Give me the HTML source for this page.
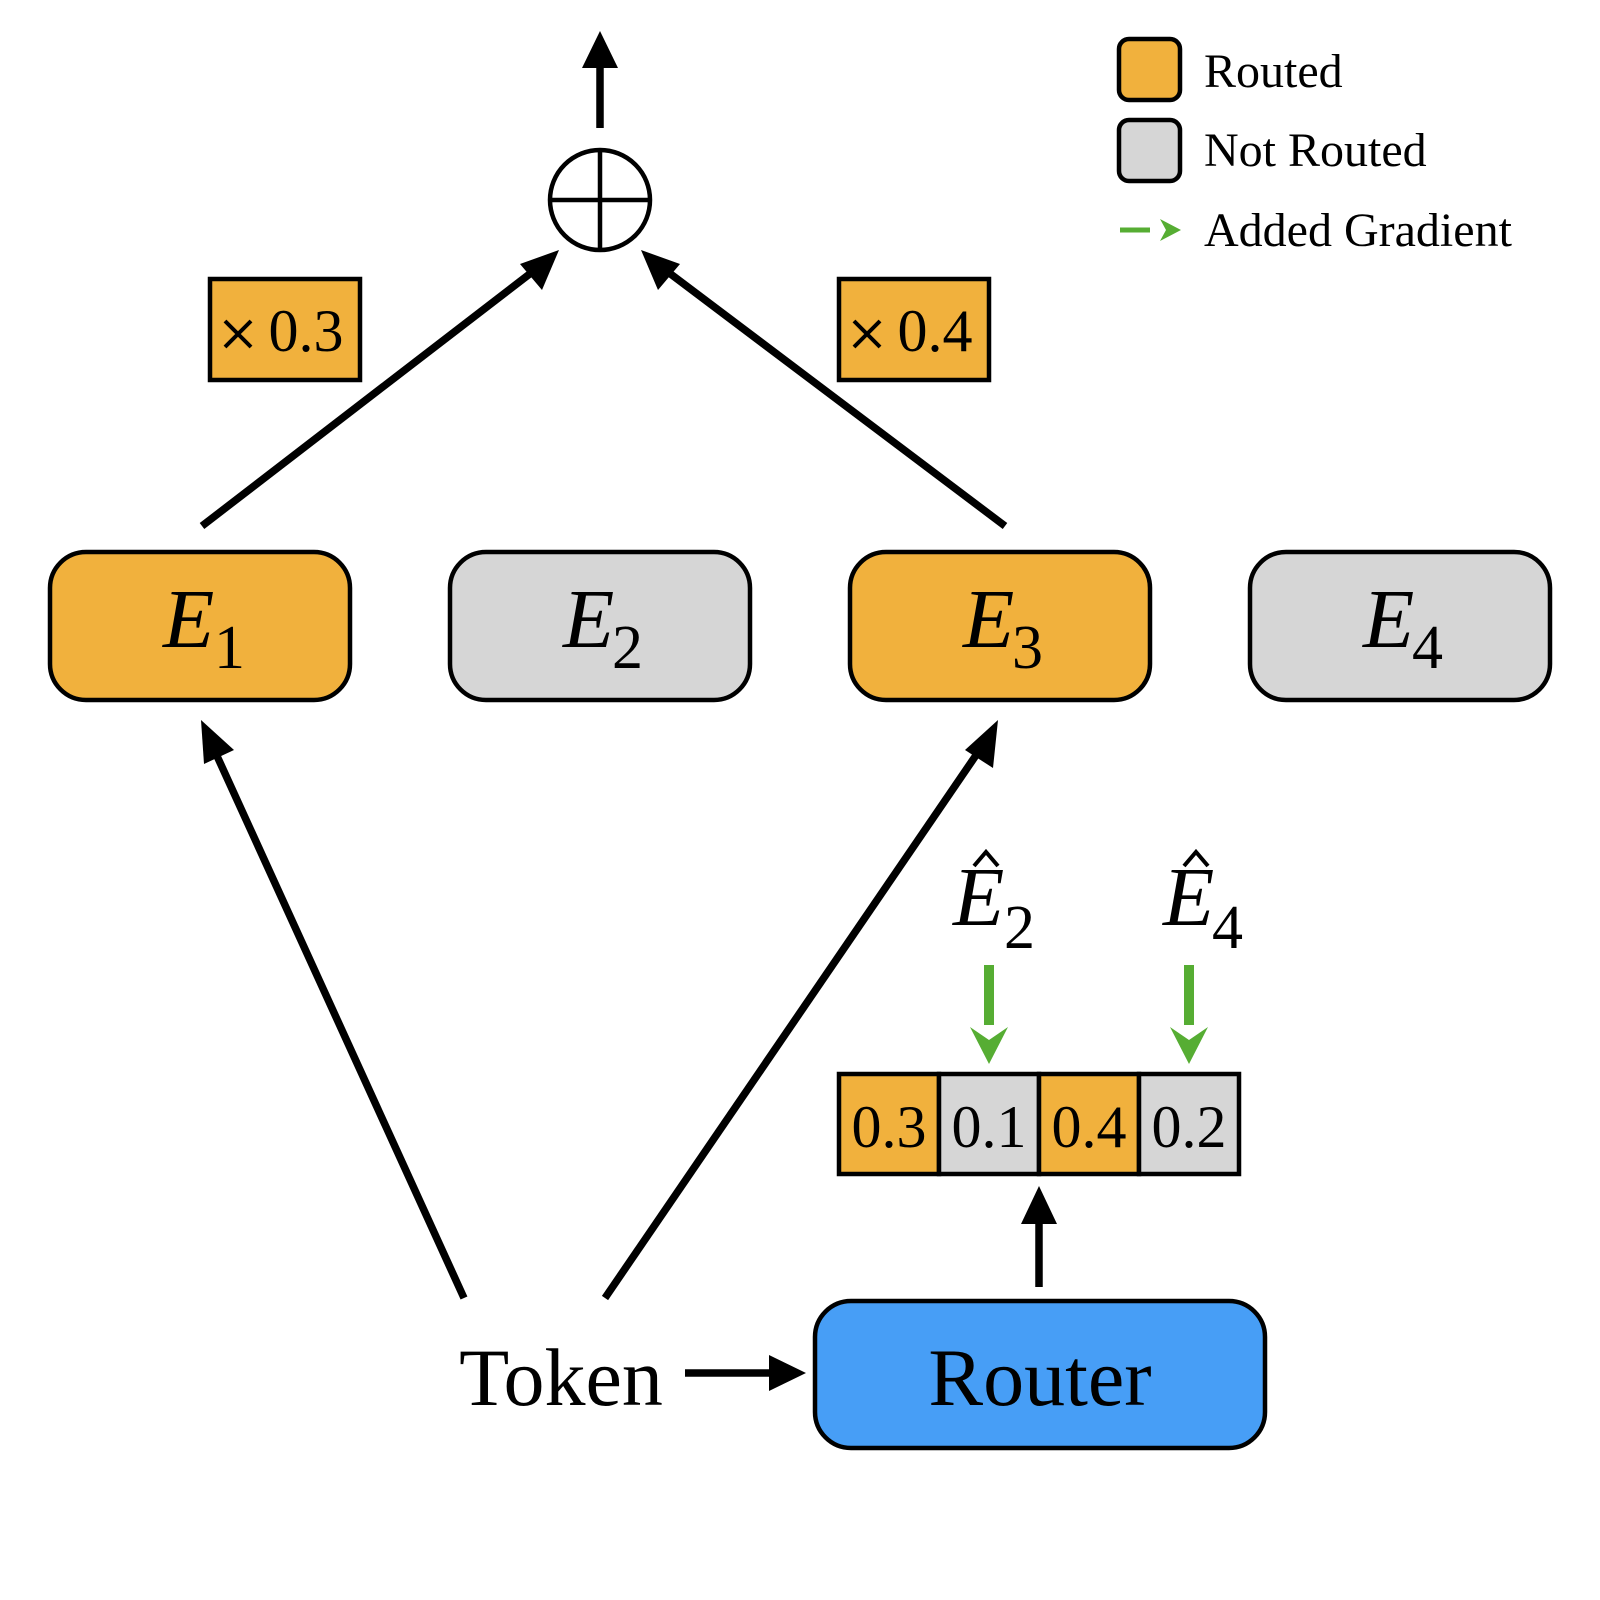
<!DOCTYPE html>
<html><head><style>html,body{margin:0;padding:0;background:#fff}svg{display:block}</style></head>
<body>
<svg width="1600" height="1600" viewBox="0 0 1600 1600" xmlns="http://www.w3.org/2000/svg" font-family="Liberation Serif, serif">
<g stroke="#000" stroke-width="4.5">
<rect x="50" y="552" width="300" height="148" rx="36" fill="#f1b13d"/>
<rect x="450" y="552" width="300" height="148" rx="36" fill="#d6d6d6"/>
<rect x="850" y="552" width="300" height="148" rx="36" fill="#f1b13d"/>
<rect x="1250" y="552" width="300" height="148" rx="36" fill="#d6d6d6"/>
<rect x="815" y="1301" width="450" height="147" rx="36" fill="#479ef6"/>
<rect x="1119" y="39" width="61" height="61" rx="10" fill="#f1b13d"/>
<rect x="1119" y="120" width="61" height="61" rx="10" fill="#d6d6d6"/>
<rect x="210" y="279" width="150" height="101" fill="#f1b13d"/>
<rect x="839" y="279" width="150" height="101" fill="#f1b13d"/>
<rect x="839" y="1074" width="100" height="100" fill="#f1b13d"/>
<rect x="939" y="1074" width="100" height="100" fill="#d6d6d6"/>
<rect x="1039" y="1074" width="100" height="100" fill="#f1b13d"/>
<rect x="1139" y="1074" width="100" height="100" fill="#d6d6d6"/>
<circle cx="600" cy="200" r="50" fill="#fff"/>
<line x1="550" y1="200" x2="650" y2="200"/><line x1="600" y1="150" x2="600" y2="250"/>
</g>
<g stroke="#000" stroke-width="7.5" fill="none">
<line x1="600" y1="128" x2="600" y2="60"/>
<line x1="202" y1="526" x2="540" y2="266"/>
<line x1="1005" y1="526" x2="660" y2="266"/>
<line x1="464" y1="1298" x2="212" y2="745"/>
<line x1="605" y1="1298" x2="983" y2="745"/>
<line x1="685" y1="1373" x2="780" y2="1373"/>
<line x1="1039" y1="1287" x2="1039" y2="1215"/>
</g>
<g stroke="#000" stroke-width="4" fill="none">
<path d="M225 321 L251 347 M251 321 L225 347"/>
<path d="M854 321 L880 347 M880 321 L854 347"/>
<path d="M974 866 L986 852 L998 866"/>
<path d="M1184 866 L1196 852 L1208 866"/>
</g>
<g fill="#000">
<polygon points="600,31 582,68 618,68"/>
<polygon points="559,250 520,264 542,290"/>
<polygon points="641,250 658,290 680,264"/>
<polygon points="201,720 204,764 234,750"/>
<polygon points="998,720 965,750 993,768"/>
<polygon points="806,1373 769,1355 769,1391"/>
<polygon points="1039,1186 1021,1224 1057,1224"/>
</g>
<g stroke="#56ad33" stroke-width="10"><line x1="989" y1="965" x2="989" y2="1025"/><line x1="1189" y1="965" x2="1189" y2="1025"/>
<line x1="1120" y1="230" x2="1150" y2="230" stroke-width="5"/></g>
<g fill="#56ad33">
<polygon points="970,1027 989,1064 1008,1027 989,1040"/>
<polygon points="1170,1027 1189,1064 1208,1027 1189,1040"/>
<polygon points="1160,219 1181,230 1160,241 1166,230"/>
</g>
<g font-size="48" fill="#000">
<text x="1204" y="87">Routed</text>
<text x="1204" y="166">Not Routed</text>
<text x="1204" y="246">Added Gradient</text>
</g>
<g font-size="84" font-style="italic" fill="#000">
<text x="163" y="647">E</text><text x="563" y="647">E</text><text x="963" y="647">E</text><text x="1363" y="647">E</text>
<text x="953" y="925">E</text><text x="1163" y="925">E</text>
</g>
<g font-size="62" fill="#000">
<text x="214" y="668">1</text><text x="612" y="668">2</text><text x="1012" y="668">3</text><text x="1412" y="668">4</text>
<text x="1004" y="948">2</text><text x="1212" y="948">4</text>
</g>
<g font-size="60" fill="#000" text-anchor="middle">
<text x="889" y="1147">0.3</text><text x="989" y="1147">0.1</text><text x="1089" y="1147">0.4</text><text x="1189" y="1147">0.2</text>
<text x="306" y="351">0.3</text><text x="935" y="351">0.4</text>
</g>
<g font-size="82" fill="#000" text-anchor="middle">
<text x="561" y="1405">Token</text>
<text x="1040" y="1405">Router</text>
</g>
</svg>
</body></html>
